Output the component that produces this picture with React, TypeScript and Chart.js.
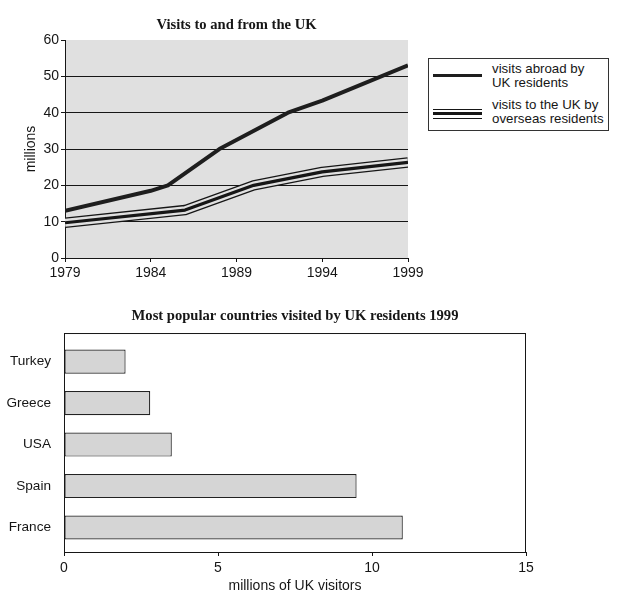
import { useEffect, useRef } from "react";
import { Chart, registerables } from "chart.js";

Chart.register(...registerables);

// ---------- data ----------
const lineTitle = "Visits to and from the UK";
const barTitle = "Most popular countries visited by UK residents 1999";

const abroadYears = [1979, 1984, 1985, 1988, 1992, 1994, 1999];
const abroadVisits = [13, 18.5, 20, 30, 40, 43.3, 53];

const overseasYears = [1979, 1986, 1990, 1994, 1999];
const overseasVisits = [9.7, 13.2, 20, 23.7, 26.3];

const yearTicks = [1979, 1984, 1989, 1994, 1999];
const millionTicks = [0, 10, 20, 30, 40, 50, 60];

const countries = ["Turkey", "Greece", "USA", "Spain", "France"];
const countryVisitors = [2, 2.8, 3.5, 9.5, 11];
const visitorTicks = [0, 5, 10, 15];

const abroadLabel = ["visits abroad by", "UK residents"];
const overseasLabel = ["visits to the UK by", "overseas residents"];

// ---------- styles ----------
const SANS = "'Liberation Sans', Arial, sans-serif";
const SERIF = "'Liberation Serif', 'Times New Roman', serif";
const INK = "#161616";
const PLOT_BG = "#e0e0e0";

const plotBg = {
  id: "plotBg",
  beforeDraw(chart: any) {
    const { ctx, chartArea: a } = chart;
    ctx.save();
    ctx.fillStyle = PLOT_BG;
    ctx.fillRect(a.left, a.top, a.right - a.left, a.bottom - a.top);
    ctx.restore();
  },
};

const frame = {
  id: "frame",
  afterDraw(chart: any) {
    const { ctx, chartArea: a } = chart;
    ctx.save();
    ctx.strokeStyle = INK;
    ctx.lineWidth = 1;
    ctx.strokeRect(a.left + 0.5, a.top + 0.5, a.right - a.left - 1, a.bottom - a.top);
    ctx.restore();
  },
};

function LineChart() {
  const ref = useRef<HTMLCanvasElement | null>(null);
  useEffect(() => {
    if (!ref.current) return;
    const abroadPts = abroadYears.map((x, i) => ({ x, y: abroadVisits[i] }));
    const overseasPts = overseasYears.map((x, i) => ({ x, y: overseasVisits[i] }));
    const common = {
      pointRadius: 0,
      tension: 0,
      fill: false,
      borderJoinStyle: "round" as const,
    };
    const chart = new Chart(ref.current, {
      type: "line",
      data: {
        datasets: [
          { ...common, label: "visits abroad by UK residents", data: abroadPts, borderColor: "#1e1e1e", borderWidth: 4, order: 0 },
          { ...common, label: "visits to the UK by overseas residents", data: overseasPts, borderColor: INK, borderWidth: 3.2, order: 1 },
          { ...common, label: "gap", data: overseasPts, borderColor: PLOT_BG, borderWidth: 7.8, order: 2 },
          { ...common, label: "outline", data: overseasPts, borderColor: INK, borderWidth: 10.4, order: 3 },
        ],
      },
      options: {
        responsive: false,
        animation: false,
        layout: { padding: { left: 0, right: 22, top: 0, bottom: 0 } },
        plugins: {
          legend: { display: false },
          tooltip: { enabled: false },
          title: {
            display: true,
            text: lineTitle,
            fullSize: false,
            color: INK,
            font: { family: SERIF, size: 14.6, weight: "bold" },
            padding: { top: 16, bottom: 6.5 },
          },
        },
        scales: {
          x: {
            type: "linear",
            min: 1979,
            max: 1999,
            afterBuildTicks: (s: any) => {
              s.ticks = yearTicks.map((v) => ({ value: v }));
            },
            afterFit: (s: any) => {
              s.height = 32;
            },
            grid: { drawOnChartArea: false, tickLength: 4, tickColor: INK, color: INK },
            border: { color: INK, width: 1 },
            ticks: {
              autoSkip: false,
              maxRotation: 0,
              color: INK,
              padding: 3,
              font: { family: SANS, size: 14 },
              callback: (v: any) => String(v),
            },
          },
          y: {
            min: 0,
            max: 60,
            afterBuildTicks: (s: any) => {
              s.ticks = millionTicks.map((v) => ({ value: v }));
            },
            afterFit: (s: any) => {
              s.width = 65;
            },
            grid: {
              color: (c: any) => (c.tick && c.tick.value === 60 ? "rgba(0,0,0,0)" : INK),
              tickColor: INK,
              tickLength: 4,
              lineWidth: 1,
            },
            border: { color: INK, width: 1 },
            ticks: { color: INK, padding: 2, font: { family: SANS, size: 14 } },
            title: {
              display: true,
              text: "millions",
              color: INK,
              font: { family: SANS, size: 14 },
              padding: { top: 23, bottom: 0 },
            },
          },
        },
      },
      plugins: [plotBg],
    });
    return () => chart.destroy();
  }, []);
  return <canvas ref={ref} width={430} height={290} style={{ position: "absolute", left: 0, top: 0 }} />;
}

function BarChart() {
  const ref = useRef<HTMLCanvasElement | null>(null);
  useEffect(() => {
    if (!ref.current) return;
    const bars = countries.map((_, i) => ({ x: countryVisitors[i], y: i }));
    const chart = new Chart(ref.current, {
      type: "bar",
      data: {
        labels: countries,
        datasets: [
          {
            label: "millions of UK visitors",
            data: bars,
            backgroundColor: "#d5d5d5",
            borderColor: "#222",
            borderWidth: 1.2,
            borderSkipped: false,
            barPercentage: 0.58,
            categoryPercentage: 1,
          },
        ],
      },
      options: {
        indexAxis: "y",
        responsive: false,
        animation: false,
        layout: { padding: { left: 0, right: 108, top: 0, bottom: 0 } },
        plugins: {
          legend: { display: false },
          tooltip: { enabled: false },
          title: {
            display: true,
            text: barTitle,
            fullSize: false,
            color: INK,
            font: { family: SERIF, size: 14.6, weight: "bold" },
            padding: { top: 17, bottom: 8.5 },
          },
        },
        scales: {
          x: {
            min: 0,
            max: 15,
            afterBuildTicks: (s: any) => {
              s.ticks = visitorTicks.map((v) => ({ value: v }));
            },
            afterFit: (s: any) => {
              s.height = 56;
            },
            grid: { drawOnChartArea: false, tickLength: 4, tickColor: INK, color: INK },
            border: { color: INK, width: 1 },
            ticks: { color: INK, padding: 4, maxRotation: 0, font: { family: SANS, size: 14 } },
            title: {
              display: true,
              text: "millions of UK visitors",
              color: INK,
              font: { family: SANS, size: 14 },
              padding: { top: 0, bottom: 13 },
            },
          },
          y: {
            type: "linear",
            reverse: true,
            offset: false,
            min: -0.69,
            max: 4.59,
            afterBuildTicks: (s: any) => {
              s.ticks = countries.map((_, i) => ({ value: i }));
            },
            afterFit: (s: any) => {
              s.width = 64;
            },
            grid: { display: false, offset: false },
            border: { display: true, color: INK, width: 1 },
            ticks: {
              color: INK,
              padding: 5,
              autoSkip: false,
              font: { family: SANS, size: 13.6 },
              callback: (v: any) => countries[v] ?? "",
            },
          },
        },
      },
      plugins: [frame],
    });
    return () => chart.destroy();
  }, []);
  return <canvas ref={ref} width={634} height={318} style={{ position: "absolute", left: 0, top: 290 }} />;
}

function Legend() {
  const text: React.CSSProperties = {
    position: "absolute",
    left: 63,
    fontFamily: SANS,
    fontSize: 13.3,
    lineHeight: "14.3px",
    color: INK,
    whiteSpace: "nowrap",
  };
  return (
    <div
      style={{
        position: "absolute",
        left: 428,
        top: 58,
        width: 181,
        height: 73,
        boxSizing: "border-box",
        border: "1px solid #333",
        background: "#fff",
      }}
    >
      <div style={{ position: "absolute", left: 4, top: 14.5, width: 49, height: 3, background: "#1e1e1e" }} />
      <div style={{ ...text, top: 3 }}>
        {abroadLabel.map((t) => (
          <div key={t}>{t}</div>
        ))}
      </div>
      <div
        style={{
          position: "absolute",
          left: 4,
          top: 50,
          width: 49,
          height: 10,
          boxSizing: "border-box",
          borderTop: `1.3px solid ${INK}`,
          borderBottom: `1.3px solid ${INK}`,
        }}
      >
        <div style={{ position: "absolute", left: 0, right: 0, top: 2.2, height: 3, background: INK }} />
      </div>
      <div style={{ ...text, top: 39 }}>
        {overseasLabel.map((t) => (
          <div key={t}>{t}</div>
        ))}
      </div>
    </div>
  );
}

export default function App() {
  return (
    <div style={{ position: "absolute", left: 0, top: 0, width: 634, height: 608, background: "#fff" }}>
      <LineChart />
      <Legend />
      <BarChart />
    </div>
  );
}
